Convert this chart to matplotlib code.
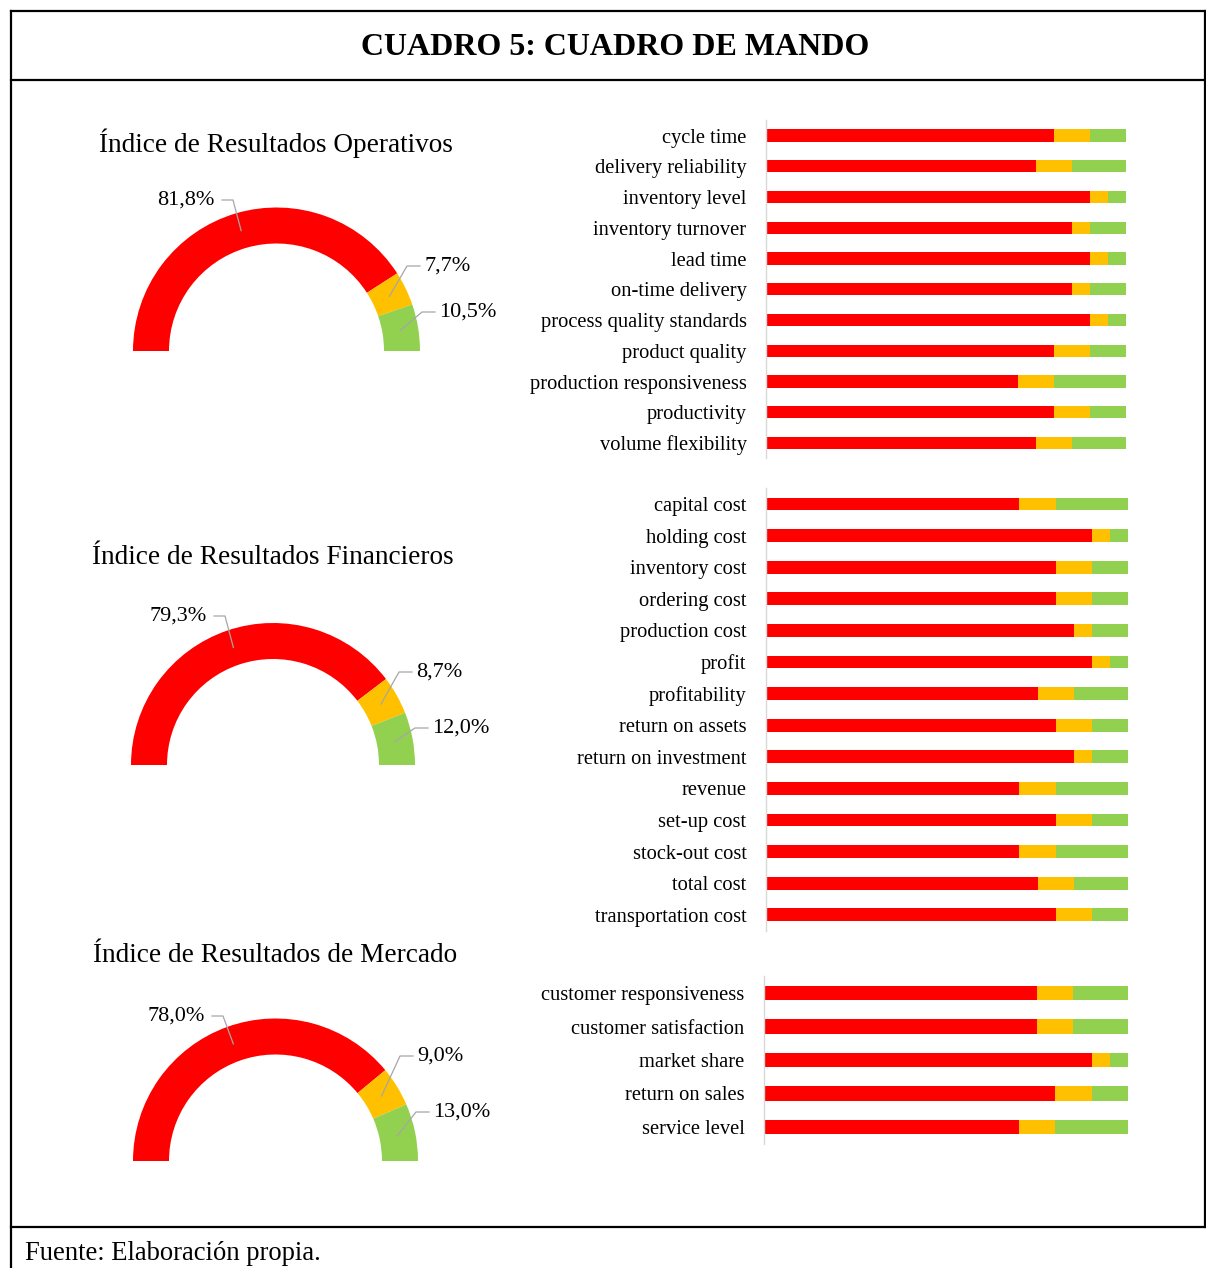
import matplotlib
matplotlib.use("Agg")
import matplotlib.pyplot as plt
import numpy as np
from matplotlib.lines import Line2D

plt.rcParams['font.family'] = ['Liberation Serif', 'DejaVu Serif']

# ---------------- data ----------------
title = "CUADRO 5: CUADRO DE MANDO"
footer = "Fuente: Elaboración propia."

op_title = "Índice de Resultados Operativos"
op_gauge = [81.8, 7.7, 10.5]
op_labels = ["cycle time", "delivery reliability", "inventory level", "inventory turnover",
             "lead time", "on-time delivery", "process quality standards", "product quality",
             "production responsiveness", "productivity", "volume flexibility"]
op_red = [0.80, 0.75, 0.90, 0.85, 0.90, 0.85, 0.90, 0.80, 0.70, 0.80, 0.75]
op_yel = [0.10, 0.10, 0.05, 0.05, 0.05, 0.05, 0.05, 0.10, 0.10, 0.10, 0.10]
op_grn = [0.10, 0.15, 0.05, 0.10, 0.05, 0.10, 0.05, 0.10, 0.20, 0.10, 0.15]

fi_title = "Índice de Resultados Financieros"
fi_gauge = [79.3, 8.7, 12.0]
fi_labels = ["capital cost", "holding cost", "inventory cost", "ordering cost",
             "production cost", "profit", "profitability", "return on assets",
             "return on investment", "revenue", "set-up cost", "stock-out cost",
             "total cost", "transportation cost"]
fi_red = [0.70, 0.90, 0.80, 0.80, 0.85, 0.90, 0.75, 0.80, 0.85, 0.70, 0.80, 0.70, 0.75, 0.80]
fi_yel = [0.10, 0.05, 0.10, 0.10, 0.05, 0.05, 0.10, 0.10, 0.05, 0.10, 0.10, 0.10, 0.10, 0.10]
fi_grn = [0.20, 0.05, 0.10, 0.10, 0.10, 0.05, 0.15, 0.10, 0.10, 0.20, 0.10, 0.20, 0.15, 0.10]

me_title = "Índice de Resultados de Mercado"
me_gauge = [78.0, 9.0, 13.0]
me_labels = ["customer responsiveness", "customer satisfaction", "market share",
             "return on sales", "service level"]
me_red = [0.75, 0.75, 0.90, 0.80, 0.70]
me_yel = [0.10, 0.10, 0.05, 0.10, 0.10]
me_grn = [0.15, 0.15, 0.05, 0.10, 0.20]

# ---------------- styles ----------------
RED, YEL, GRN = "#FF0000", "#FFC000", "#92D050"
COLORS = [RED, YEL, GRN]
W, H = 1206, 1268
fig = plt.figure(figsize=(W / 100, H / 100), dpi=100)
fig.patch.set_facecolor("white")


def fx(x):
    return x / W


def fy(y):
    return 1 - y / H


# frame lines
lw = 1.6
for (x0, y0, x1, y1) in [(11, 11, W, 11), (11, 80, W, 80), (11, 1227, W, 1227),
                         (11, 11, 11, H), (1204.5, 11, 1204.5, 1227)]:
    fig.add_artist(Line2D([fx(x0), fx(x1)], [fy(y0), fy(y1)], color="black", lw=lw,
                          transform=fig.transFigure))

fig.text(fx(615), fy(47.5), title, ha="center", va="center", fontsize=23, fontweight="bold")
fig.text(fx(25), fy(1254), footer, ha="left", va="center", fontsize=19.2)


def gauge(vals, name, cx, cy, r, ring, title_xy, lab_pos):
    half = 250
    ax = fig.add_axes([fx(cx - half), fy(cy + half), 2 * half / W, 2 * half / H])
    data = list(vals) + [sum(vals)]
    wedges, _ = ax.pie(data, radius=r, startangle=180, counterclock=False,
                       colors=COLORS + ["none"],
                       wedgeprops=dict(width=ring, linewidth=0))
    wedges[-1].set_visible(False)
    ax.set_xlim(-half, half)
    ax.set_ylim(-half, half)
    ax.set_aspect("equal")
    ax.axis("off")
    mid_r = r - ring / 2
    for i, (w, v) in enumerate(zip(wedges[:3], vals)):
        ang = np.deg2rad((w.theta1 + w.theta2) / 2)
        mx, my = mid_r * np.cos(ang), mid_r * np.sin(ang)
        tx, ty = lab_pos[i]
        txt = f"{v:.1f}%".replace(".", ",")
        if i == 0:
            ax.text(tx, ty, txt, ha="right", va="center", fontsize=16)
            sx, ex = tx + 7, tx + 18
        else:
            ax.text(tx, ty, txt, ha="left", va="center", fontsize=16)
            sx, ex = tx - 4, tx - 17
        ax.plot([sx, ex, mx], [ty, ty, my], color="#A6A6A6", lw=0.9)
    fig.text(fx(title_xy[0]), fy(title_xy[1]), name, ha="center", va="center", fontsize=19.6)


gauge(op_gauge, op_title, 276.5, 351, 143.5, 36, (275.5, 143),
      [(-61.5, 151), (147.5, 85), (162.5, 39)])
gauge(fi_gauge, fi_title, 273, 765, 142, 36, (273, 558),
      [(-66, 149), (143, 93), (159, 37)])
gauge(me_gauge, me_title, 275.5, 1161, 142.5, 36, (275, 955),
      [(-70.5, 145), (141.5, 105), (157.5, 49)])


def bars(labels, red, yel, grn, x0, x1, first_y, spacing, bh):
    n = len(labels)
    top = first_y - spacing / 2
    ax = fig.add_axes([fx(x0), fy(top + n * spacing), (x1 - x0) / W, n * spacing / H])
    y = np.arange(n)
    red = np.array(red); yel = np.array(yel); grn = np.array(grn)
    ax.barh(y, red, height=bh, color=RED, lw=0)
    ax.barh(y, yel, left=red, height=bh, color=YEL, lw=0)
    ax.barh(y, grn, left=red + yel, height=bh, color=GRN, lw=0)
    ax.set_xlim(0, 1)
    ax.set_ylim(n - 0.5, -0.5)
    ax.set_yticks(y)
    ax.set_yticklabels(labels, fontsize=14.8)
    ax.tick_params(axis="y", length=0, pad=14)
    ax.set_xticks([])
    for s in ["top", "right", "bottom"]:
        ax.spines[s].set_visible(False)
    ax.spines["left"].set_color("#D9D9D9")
    ax.spines["left"].set_linewidth(1.0)
    ax.patch.set_alpha(0)


bars(op_labels, op_red, op_yel, op_grn, 766, 1126, 135.5, 30.75, 0.40)
bars(fi_labels, fi_red, fi_yel, fi_grn, 766, 1128, 504, 31.6, 0.41)
bars(me_labels, me_red, me_yel, me_grn, 764, 1128, 993, 33.5, 0.42)

fig.savefig("out.png", dpi=100, facecolor="white")
